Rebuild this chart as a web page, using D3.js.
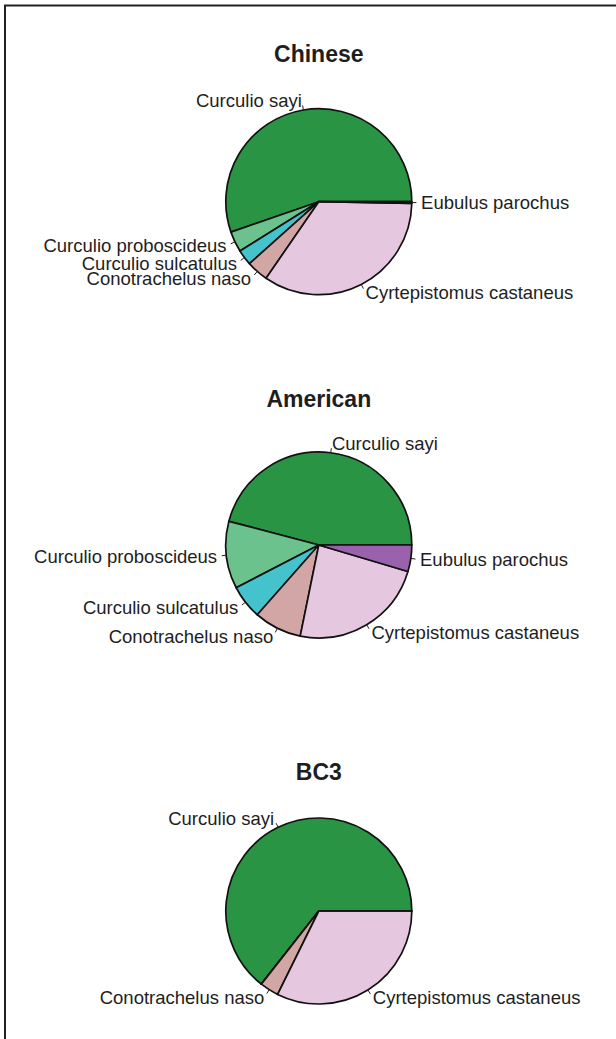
<!DOCTYPE html>
<html lang="en">
	<head>
		<meta charset="utf-8">
		<title>Weevil species composition</title>
		<script src="https://d3js.org/d3.v7.min.js" charset="utf-8"></script>
		<style type="text/css">
		body { margin: 0; background: #fff; }
		svg text { font-family: "Liberation Sans", Arial, Helvetica, sans-serif; fill: #1e1e1e; }
		</style>
		<link rel="icon" href="data:;base64,=">
	</head>
	<body>
	<script type="text/javascript">

		// species in the order they are drawn (counterclockwise from 3 o'clock)
		const species = ["Curculio sayi", "Curculio proboscideus", "Curculio sulcatulus",
			"Conotrachelus naso", "Cyrtepistomus castaneus", "Eubulus parochus"];
		const colours = ["#2a9445", "#6cc28d", "#45c3cd", "#d3a6a6", "#e5c8e0", "#9a62ac"];

		// percent of weevils per chestnut type
		const chinese = [55.3, 3.6, 2.7, 3.8, 34.3, 0.3];
		const american = [45.9, 11.7, 5.9, 8.3, 23.6, 4.6];
		const bc3 = [64.4, 0, 0, 3.3, 32.3, 0];

		const titles = ["Chinese", "American", "BC3"];
		const groups = [chinese, american, bc3];

		//Width and height
		const w = 616;
		const h = 1039;
		const r = 93;
		const cx = 318.8;
		const centres = [201.7, 545, 911];
		const titleY = [62, 407, 780];

		const svg = d3.select("body")
				.append("svg")
				.attr("width", w)
				.attr("height", h);

		// frame (only top and left edges fall inside the picture)
		svg.append("rect")
			.attr("x", 5)
			.attr("y", 5.5)
			.attr("width", w + 20)
			.attr("height", h + 20)
			.style("fill", "none")
			.style("stroke", "#222")
			.style("stroke-width", 2);

		// R style pie: start at 3 o'clock, go counterclockwise
		const pie = d3.pie()
			.sort(null)
			.startAngle(Math.PI / 2)
			.endAngle(Math.PI / 2 - 2 * Math.PI);

		const arc = d3.arc().innerRadius(0).outerRadius(r);

		groups.forEach(function(values, gi) {
			const g = svg.append("g")
				.attr("transform", "translate(" + cx + "," + centres[gi] + ")");

			svg.append("text")
				.attr("x", cx)
				.attr("y", titleY[gi])
				.attr("text-anchor", "middle")
				.style("font-size", "23px")
				.style("font-weight", "bold")
				.text(titles[gi]);

			const slices = pie(values);

			g.selectAll("path")
				.data(slices)
				.enter()
				.append("path")
				.attr("d", arc)
				.style("fill", function(d, i) { return colours[i]; })
				.style("stroke", "#111")
				.style("stroke-width", 1.7)
				.style("stroke-linejoin", "round");

			// labels like base R: tick from r to 1.05r, text at 1.1r
			slices.forEach(function(d, i) {
				if (d.value <= 0) return;
				const a = (d.startAngle + d.endAngle) / 2;
				const x = Math.sin(a), y = -Math.cos(a);
				g.append("line")
					.attr("x1", x * r).attr("y1", y * r)
					.attr("x2", x * r * 1.05).attr("y2", y * r * 1.05)
					.style("stroke", "#222")
					.style("stroke-width", 1);
				g.append("text")
					.attr("x", x * r * 1.1)
					.attr("y", y * r * 1.1)
					.attr("dy", "0.35em")
					.attr("text-anchor", x < 0 ? "end" : "start")
					.style("font-size", "18.5px")
					.text(species[i]);
			});
		});
	</script>
	</body>
</html>
